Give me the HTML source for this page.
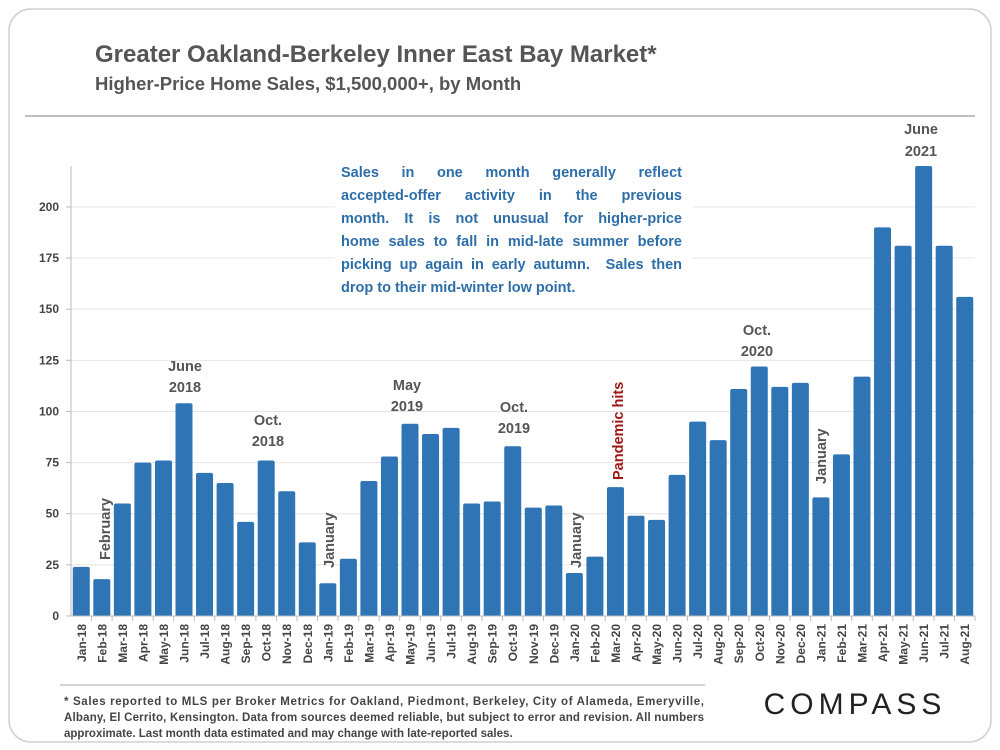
<!DOCTYPE html>
<html><head><meta charset="utf-8"><style>
body{margin:0;background:#fff;font-family:"Liberation Sans",sans-serif}
#note{position:absolute;left:341px;top:162px;width:341px;font-size:14.5px;font-weight:bold;color:#2e6ea8;line-height:23px;background:#fff}
#note div{text-align:justify;text-align-last:justify;white-space:nowrap}
#note div.last{text-align-last:left}
</style></head><body>
<svg width="1000" height="750" xmlns="http://www.w3.org/2000/svg" font-family="Liberation Sans, sans-serif" style="position:absolute;left:0;top:0">
<rect x="9" y="9" width="982" height="733" rx="22" fill="#fff" stroke="#d0d0d0" stroke-width="1.5"/>
<text x="95" y="62" font-size="24" font-weight="bold" fill="#555">Greater Oakland-Berkeley Inner East Bay Market*</text>
<text x="95" y="90" font-size="18.5" font-weight="bold" fill="#555">Higher-Price Home Sales, $1,500,000+, by Month</text>
<line x1="25" y1="116" x2="975" y2="116" stroke="#999" stroke-width="1.2"/>
<g id="grid"></g>
<rect x="335" y="158" width="358" height="140" fill="#fff"/>
<g id="bars"></g>
<g id="axes"></g>
<g font-size="14.5" font-weight="bold" fill="#555" text-anchor="middle">
<text x="185" y="371">June</text><text x="185" y="392">2018</text>
<text x="268" y="425">Oct.</text><text x="268" y="446">2018</text>
<text x="407" y="390">May</text><text x="407" y="411">2019</text>
<text x="514" y="412">Oct.</text><text x="514" y="433">2019</text>
<text x="757" y="335">Oct.</text><text x="757" y="356">2020</text>
<text x="921" y="134">June</text><text x="921" y="156">2021</text>
<text transform="translate(110,560) rotate(-90)" text-anchor="start">February</text>
<text transform="translate(334,568) rotate(-90)" text-anchor="start">January</text>
<text transform="translate(581,568) rotate(-90)" text-anchor="start">January</text>
<text transform="translate(826,484) rotate(-90)" text-anchor="start">January</text>
<text transform="translate(623,480) rotate(-90)" text-anchor="start" fill="#a01818">Pandemic hits</text>
</g>
<line x1="60" y1="685" x2="705" y2="685" stroke="#aaa" stroke-width="1"/>
<g font-size="11.5" font-weight="bold" fill="#444">
<text x="64" y="705" textLength="640" lengthAdjust="spacing">* Sales reported to MLS per Broker Metrics for Oakland, Piedmont, Berkeley, City of Alameda, Emeryville,</text>
<text x="64" y="721" textLength="640" lengthAdjust="spacing">Albany, El Cerrito, Kensington. Data from sources deemed reliable, but subject to error and revision. All numbers</text>
<text x="64" y="737">approximate. Last month data estimated and may change with late-reported sales.</text>
</g>
<text x="855" y="714" font-size="30" fill="#222" text-anchor="middle" letter-spacing="5">COMPASS</text>
</svg>
<div id="note">
<div>Sales in one month generally reflect</div>
<div>accepted-offer activity in the previous</div>
<div>month. It is not unusual for higher-price</div>
<div>home sales to fall in mid-late summer before</div>
<div>picking up again in early autumn. &nbsp;Sales then</div>
<div class="last">drop to their mid-winter low point.</div>
</div>
<script>
const months=["Jan-18","Feb-18","Mar-18","Apr-18","May-18","Jun-18","Jul-18","Aug-18","Sep-18","Oct-18","Nov-18","Dec-18","Jan-19","Feb-19","Mar-19","Apr-19","May-19","Jun-19","Jul-19","Aug-19","Sep-19","Oct-19","Nov-19","Dec-19","Jan-20","Feb-20","Mar-20","Apr-20","May-20","Jun-20","Jul-20","Aug-20","Sep-20","Oct-20","Nov-20","Dec-20","Jan-21","Feb-21","Mar-21","Apr-21","May-21","Jun-21","Jul-21","Aug-21"];
const sales=[24,18,55,75,76,104,70,65,46,76,61,36,16,28,66,78,94,89,92,55,56,83,53,54,21,29,63,49,47,69,95,86,111,122,112,114,58,79,117,190,181,220,181,156];
const yTicks=[0,25,50,75,100,125,150,175,200];
const NS="http://www.w3.org/2000/svg";
const X0=71,X1=975,Y0=616,YMAX=220,YTOP=166;
const slot=(X1-X0)/months.length;
const y=v=>Y0-(v/YMAX)*(Y0-YTOP);
const xc=i=>X0+slot*(i+0.5);
function mk(t,a,p){const e=document.createElementNS(NS,t);for(const k in a)e.setAttribute(k,a[k]);p.appendChild(e);return e;}
const grid=document.getElementById('grid'),bars=document.getElementById('bars'),axes=document.getElementById('axes');
yTicks.forEach(v=>{
 if(v>0){const g=mk('line',{x1:X0,x2:X1,y1:y(v),y2:y(v),stroke:'#e4e4e4','stroke-width':1},grid);
 
 }
 const tk=mk('line',{x1:X0-5,x2:X0,y1:y(v),y2:y(v),stroke:'#bbb'},axes);
 
 
 const t=mk('text',{x:X0-12,y:y(v)+4,'font-size':12,'font-weight':'bold',fill:'#444','text-anchor':'end'},axes);
 t.textContent=v;
 
 
});
sales.forEach((v,i)=>{
 const w=17,x=xc(i)-w/2,top=y(v),r=2;
 const b=mk('path',{d:`M${x},${Y0}V${top+r}Q${x},${top} ${x+r},${top}H${x+w-r}Q${x+w},${top} ${x+w},${top+r}V${Y0}Z`,fill:'#2f74b5'},bars);
 
 
 const t=mk('text',{transform:`translate(${xc(i)+4.5},${Y0+8}) rotate(-90)`,'font-size':12,'font-weight':'bold',fill:'#444','text-anchor':'end'},axes);
 t.textContent=months[i];
 
 
 const tk=mk('line',{x1:X0+slot*(i+1),x2:X0+slot*(i+1),y1:Y0,y2:Y0+5,stroke:'#bbb'},axes);
 
 
});
const ya=mk('line',{x1:X0,x2:X0,y1:YTOP,y2:Y0,stroke:'#bbb'},axes);


const xa=mk('line',{x1:X0,x2:X1,y1:Y0,y2:Y0,stroke:'#bbb'},axes);


</script>
</body></html>
